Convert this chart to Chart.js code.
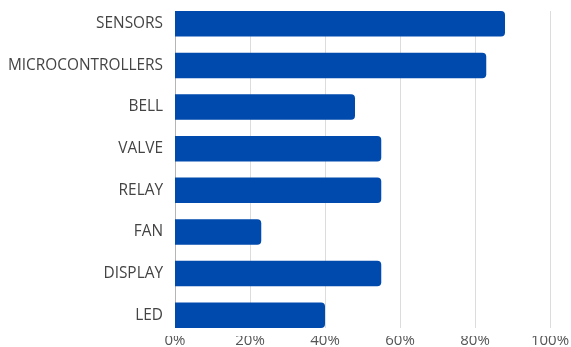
<!DOCTYPE html>
<html>
<head>
<meta charset="utf-8">
<script src="https://cdn.jsdelivr.net/npm/chart.js@4/dist/chart.umd.min.js"></script>
<style>
  html, body { margin: 0; padding: 0; background: #fff; }
  #wrap { width: 571px; height: 347px; position: relative; }
</style>
</head>
<body>
<div id="wrap"><canvas id="c"></canvas></div>
<script>
// Component categories and their share of projects (%)
const categories = ["SENSORS", "MICROCONTROLLERS", "BELL", "VALVE", "RELAY", "FAN", "DISPLAY", "LED"];
const shares = [88, 83, 48, 55, 55, 23, 55, 40];
const xTicks = [0, 20, 40, 60, 80, 100];

// Vertical grid lines that span only from the first bar's top to the last bar's bottom
const barSpanGrid = {
  id: 'barSpanGrid',
  beforeDatasetsDraw(chart) {
    const meta = chart.getDatasetMeta(0);
    if (!meta.data.length) return;
    const first = meta.data[0];
    const last = meta.data[meta.data.length - 1];
    const top = first.y - first.height / 2;
    const bottom = last.y + last.height / 2;
    const xs = chart.scales.x;
    const ctx = chart.ctx;
    ctx.save();
    ctx.lineWidth = 1;
    xTicks.forEach(v => {
      const px = Math.round(xs.getPixelForValue(v)) + 0.5;
      ctx.strokeStyle = v === 0 ? '#b5b5b5' : '#dcdcdc';
      ctx.beginPath();
      ctx.moveTo(px, top);
      ctx.lineTo(px, bottom);
      ctx.stroke();
    });
    ctx.restore();
  }
};

new Chart(document.getElementById('c'), {
  type: 'bar',
  data: {
    labels: categories,
    datasets: [{
      data: shares,
      backgroundColor: '#004aad',
      borderRadius: 4,
      borderSkipped: 'start',
      categoryPercentage: 1,
      barPercentage: 0.615
    }]
  },
  options: {
    indexAxis: 'y',
    responsive: true,
    maintainAspectRatio: false,
    animation: false,
    layout: { padding: { top: 3, right: 21, left: 0, bottom: 0 } },
    plugins: {
      legend: { display: false },
      tooltip: { enabled: false }
    },
    scales: {
      x: {
        min: 0,
        max: 100,
        afterBuildTicks(scale) { scale.ticks = xTicks.map(v => ({ value: v })); },
        afterFit(scale) {
          scale.height = 11;
          scale.paddingLeft = 0;
          scale.paddingRight = 0;
        },
        grid: { display: false, drawTicks: false },
        border: { display: false },
        ticks: {
          padding: -4,
          color: '#555',
          font: { family: 'Open Sans', size: 15 },
          maxRotation: 0,
          callback: v => v + '%'
        }
      },
      y: {
        afterFit(scale) {
          scale.width = 175;
          scale.paddingTop = 0;
          scale.paddingBottom = 0;
        },
        grid: { display: false, drawTicks: false },
        border: { display: false },
        ticks: {
          padding: 12,
          color: '#444',
          font: { family: 'Open Sans', size: 15.4 }
        }
      }
    }
  },
  plugins: [barSpanGrid]
});
</script>
</body>
</html>
